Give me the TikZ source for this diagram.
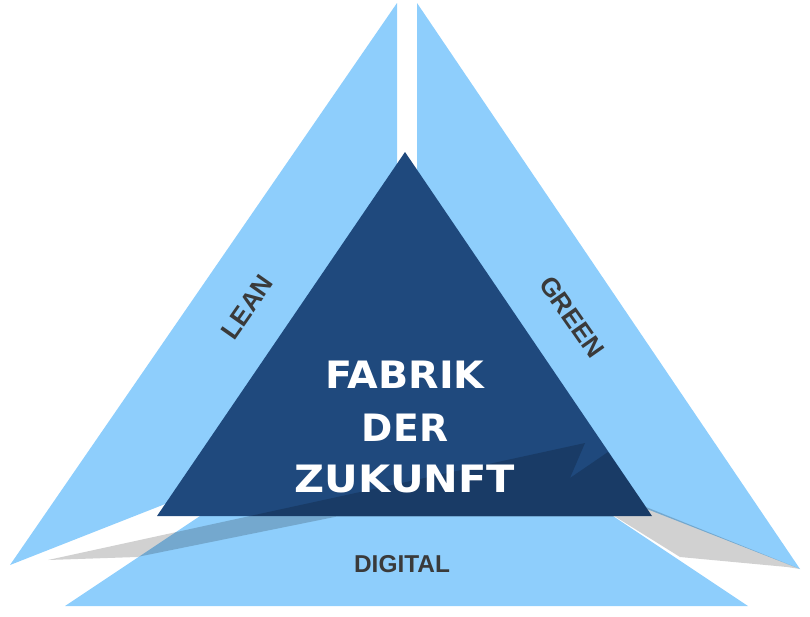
\documentclass[tikz,border=0pt]{standalone}
\usepackage{fontspec}
\newfontfamily\labfont{Liberation Sans}
\newfontfamily\cenfont{DejaVu Sans}
\definecolor{lightblue}{RGB}{142,206,252}
\definecolor{darkblue}{RGB}{31,73,125}
\definecolor{labgray}{RGB}{58,58,58}
\begin{document}
\begin{tikzpicture}[x=1pt,y=-1pt,
  piece/.style={fill=lightblue},
  core/.style={fill=darkblue},
  shade/.style={fill=black, fill opacity=0.18},
  sidelabel/.style={text=labgray, font=\labfont\bfseries\fontsize{26}{30}\selectfont, inner sep=0pt},
  corelabel/.style={text=white, font=\cenfont\bfseries\fontsize{37.7}{44}\selectfont, inner sep=0pt, anchor=base}]
\useasboundingbox (0,0) rectangle (810,616);
% outer pieces
\fill[piece] (397,3) -- (10,565) -- (300,451) -- (397,400) -- cycle;
\fill[piece] (417,3) -- (800,569) -- (560,475) -- (417,400) -- cycle;
\fill[piece] (65,606) -- (748,606) -- (610,514) -- (203,514) -- cycle;
% central triangle
\fill[core] (405,152) -- (157,516) -- (652,516) -- cycle;
% shadow
\fill[shade] (48,560) -- (585,443) -- (570,478) -- (608,452) -- (646,507) -- (800,569) -- (787,567) -- (680,557) -- (615,516.5) -- (337,516.5) -- (137,557) -- cycle;
% labels
\node[sidelabel, rotate=55] (lean) at (247,307) {LEAN};
\node[sidelabel, rotate=-55] (green) at (572,317) {GREEN};
\node[sidelabel, font=\labfont\bfseries\fontsize{24.4}{28}\selectfont, anchor=base] (digital) at (402,572) {DIGITAL};
\node[corelabel] (fabrik) at (405,388) {\scalebox{1.05}[1]{FABRIK}};
\node[corelabel] (der) at (405,441) {DER};
\node[corelabel] (zukunft) at (405,492) {\scalebox{1.1}[1]{ZUKUNFT}};
\end{tikzpicture}
\end{document}
